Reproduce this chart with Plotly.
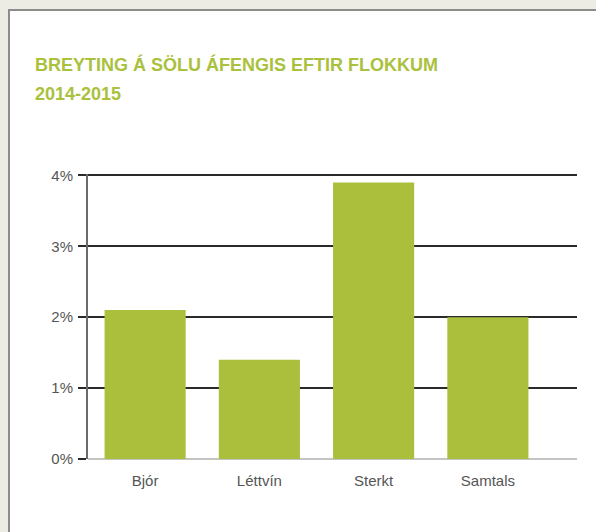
import plotly.graph_objects as go

categories = ["Bjór", "Léttvín", "Sterkt", "Samtals"]
values = [2.1, 1.4, 3.9, 2.0]
ytick_vals = [0, 1, 2, 3, 4]
ytick_text = ["0%", "1%", "2%", "3%", "4%"]
title_lines = ["BREYTING Á SÖLU ÁFENGIS EFTIR FLOKKUM", "2014-2015"]

W, H = 596, 532
L, R, T, B = 88, 19, 174, 73
pw, ph = W - L - R, H - T - B

def px(x):
    return (x - L) / pw

def py(y):
    return (H - B - y) / ph

GREEN = "#abbf3d"
TXT = "#555555"

fig = go.Figure()
fig.add_trace(go.Bar(
    x=categories, y=values, marker=dict(color=GREEN, line=dict(width=0)),
    width=0.71, hoverinfo="skip",
))

shapes = [dict(type="rect", xref="paper", yref="paper",
               x0=px(9), x1=px(800), y0=py(10), y1=py(800),
               fillcolor="white", line=dict(color="#8c8c8c", width=2), layer="below")]

annotations = []
for i, t in enumerate(title_lines):
    annotations.append(dict(
        text=t, xref="paper", yref="paper", x=px(33), y=py(52 + i * 30),
        xanchor="left", yanchor="top", showarrow=False,
        font=dict(family="Liberation Sans, Arial, sans-serif", size=18, color="#a9c13c", weight="bold"),
    ))

fig.update_layout(
    width=W, height=H, margin=dict(l=L, r=R, t=T, b=B, autoexpand=False),
    paper_bgcolor="#ecebe4", plot_bgcolor="rgba(0,0,0,0)",
    shapes=shapes, annotations=annotations, showlegend=False,
    font=dict(family="Liberation Sans, Arial, sans-serif", size=15, color=TXT),
    bargap=0.29,
)
fig.update_xaxes(
    type="category", range=[-0.5, 3.78], showgrid=False, zeroline=False,
    showline=False, ticks="", ticklabelstandoff=11,
    tickfont=dict(size=15, color=TXT), fixedrange=True,
)
fig.update_yaxes(
    range=[0, 4.02], tickvals=ytick_vals, ticktext=ytick_text,
    showgrid=True, gridcolor="#2a2a2a", gridwidth=1.5,
    zeroline=True, zerolinecolor="#c4c4c4", zerolinewidth=1.5,
    showline=True, linecolor="#6a6a6a", linewidth=2,
    ticks="outside", ticklen=8, tickcolor="#2a2a2a", tickwidth=1.5,
    ticklabelstandoff=2, tickfont=dict(size=15, color=TXT), fixedrange=True,
)

fig.write_html("out.html", config={"displayModeBar": False},
               post_script="document.body.style.margin='0';document.body.style.background='#ecebe4';")
